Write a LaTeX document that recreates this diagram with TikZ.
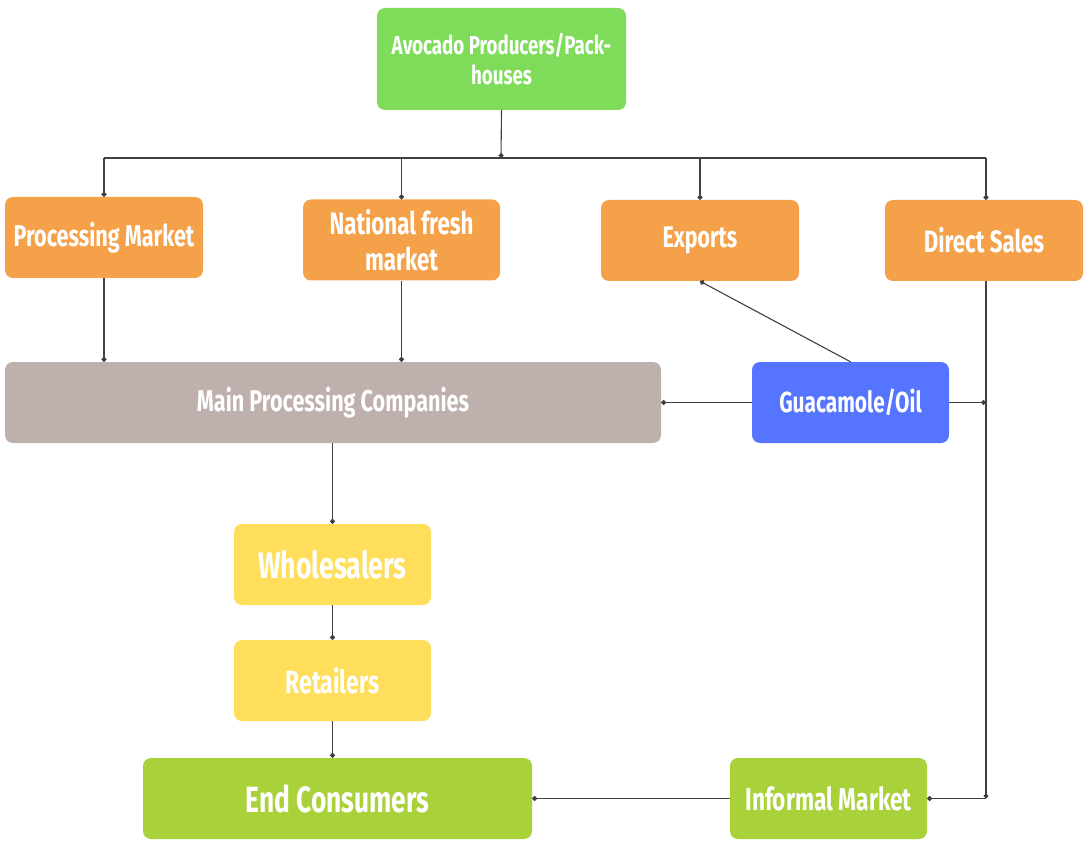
\documentclass[tikz,border=0pt]{standalone}
\usepackage{fontspec}
\setmainfont[FakeStretch=0.72]{Fira Sans}
\usetikzlibrary{arrows.meta}
\definecolor{cgreen}{HTML}{7EDC5A}
\definecolor{corange}{HTML}{F4A14A}
\definecolor{cgray}{HTML}{BEB0AD}
\definecolor{cblue}{HTML}{5574FF}
\definecolor{cyellow}{HTML}{FEDE5A}
\definecolor{clime}{HTML}{A8D13A}
\newcommand{\fs}[2]{\fontsize{#1}{#2}\selectfont\bfseries}
\begin{document}
\begin{tikzpicture}[x=1pt,y=-1pt,
 box/.style={rounded corners=8pt, text=white, align=center, inner sep=0pt, minimum width=197pt, minimum height=81pt},
 line/.style={draw=black!75, line width=1.1pt},
 conn/.style={line, -{Circle[length=5pt]}}]
\useasboundingbox (0,0) rectangle (1084,842);
\node[box, fill=cgreen, minimum width=249pt, minimum height=102pt, font=\fs{26}{30}] (prod) at (501.5,59) {Avocado Producers/Pack-\\houses};
\node[box, fill=corange, minimum width=198pt, font=\fs{30}{34}] (pm) at (104,237.5) {\raisebox{3pt}{Processing Market}};
\node[box, fill=corange, font=\fs{31}{36}] (nf) at (401.5,240) {National fresh\\market};
\node[box, fill=corange, minimum width=198pt, font=\fs{29.7}{34}] (ex) at (700,240.5) {\raisebox{2pt}{Exports}};
\node[box, fill=corange, minimum width=198pt, font=\fs{31}{34}] (ds) at (984,240.5) {\raisebox{2pt}{Direct Sales}};
\node[box, fill=cgray, minimum width=656pt, font=\fs{30}{34}] (main) at (333,402.5) {Main Processing Companies};
\node[box, fill=cblue, font=\fs{29}{34}] (guac) at (850.5,402.5) {Guacamole/Oil};
\node[box, fill=cyellow, font=\fs{37}{40}] (wh) at (332.5,564.5) {Wholesalers};
\node[box, fill=cyellow, font=\fs{32}{34}] (ret) at (332.5,680.5) {Retailers};
\node[box, fill=clime, minimum width=389pt, font=\fs{36.5}{40}] (end) at (337.5,798.5) {\raisebox{-3pt}{End Consumers}};
\node[box, fill=clime, font=\fs{31.5}{34}] (inf) at (828.5,798.5) {\raisebox{-1pt}{Informal Market}};
% top distribution
\coordinate (j) at (501,158);
\coordinate (jl) at (104,158);
\coordinate (jr) at (986,158);
\draw[conn] (prod.south) -- (j);
\draw[line] (jl) -- (jr);
\draw[conn] (jl) -- (pm.north);
\draw[conn] (nf.north |- j) -- (nf.north);
\draw[conn] (ex.north |- j) -- (ex.north);
\draw[conn] (jr) -- (jr |- ds.north);
% to main
\draw[conn] (pm.south) -- (pm.south |- main.north);
\draw[conn] (nf.south) -- (nf.south |- main.north);
\draw[conn] (guac.north) -- (ex.south);
\draw[conn] (guac.west) -- (main.east);
% right side
\coordinate (dsb) at (jr |- inf.east);
\coordinate (dsg) at (jr |- guac.east);
\draw[conn] (jr |- ds.south) -- (dsb);
\draw[conn] (guac.east) -- (dsg);
\draw[conn] (dsb) -- (inf.east);
% chain
\draw[conn] (main.south -| wh.north) -- (wh.north);
\draw[conn] (wh.south) -- (ret.north);
\draw[conn] (ret.south) -- (ret.south |- end.north);
\draw[conn] (inf.west) -- (end.east);
\end{tikzpicture}
\end{document}
